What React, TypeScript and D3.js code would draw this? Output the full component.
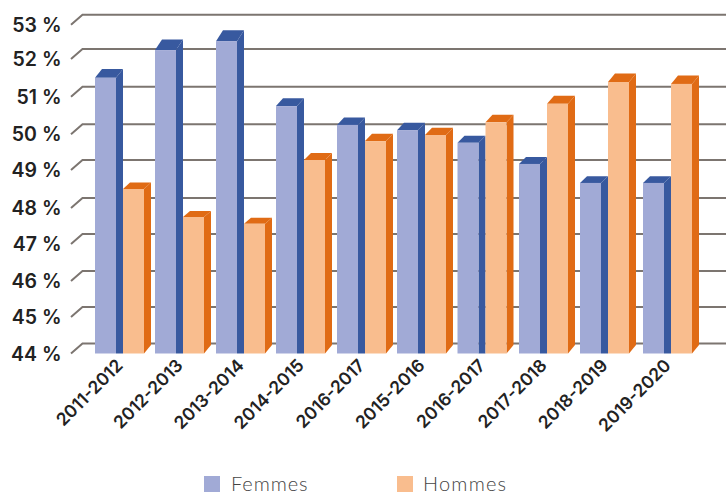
import React from "react";
import * as d3 from "d3";

const categories = ["2011-2012","2012-2013","2013-2014","2014-2015","2016-2017","2015-2016","2016-2017","2017-2018","2018-2019","2019-2020"];
const femmes = [51.5,52.26,52.52,50.75,50.25,50.11,49.76,49.17,48.66,48.66];
const hommes = [48.5,47.75,47.56,49.28,49.81,49.98,50.32,50.81,51.39,51.34];
const ticks = [44,45,46,47,48,49,50,51,52,53];
const tickRows = [343.5,307,271,234,198,160,124.3,86.7,49,14.7];
const slotIndex = categories.map((_, i) => i);
const slotLefts = [95,155,216,276,337,397,457.5,519,580,643];

const W = 726, H = 492;
const dx = 7, dy = 10, barW = 21;
const y = d3.scaleLinear().domain(ticks).range(tickRows);
const x = d3.scaleLinear().domain(slotIndex).range(slotLefts);
// the perspective of the 3D box: the depth of a bar's top shrinks as the bar gets shorter
const depth = d3.scaleLinear().domain([41, 84, 125, 224]).range([11, 8.5, 7.5, 6]);
const font = "Inter, 'Open Sans', sans-serif";

function Bar({ left, value, front, side, flat }: { left: number; value: number; front: string; side: string; flat?: boolean }) {
  const top = y(value) + dy;
  const base = y(44) + dy;
  const r = left + barW;
  const d = depth(top);
  return (
    <g>
      <path d={`M${left},${top}L${left + dx},${top - d}H${r + dx}L${r},${top}Z`} fill={side} />
      <path d={`M${r},${top}L${r + dx},${top - d}V${flat ? base : base - 8.5}L${r},${base}Z`} fill={side} />
      <rect x={left} y={top} width={barW} height={base - top} fill={front} />
    </g>
  );
}

export default function App() {
  return (
    <svg width={W} height={H} viewBox={`0 0 ${W} ${H}`} style={{ position: "absolute", left: 0, top: 0, display: "block", background: "#fff" }}>
      {ticks.map((t) => (
        <g key={t}>
          <path d={`M71,${y(t) + dy}L${71 + 11.5},${y(t)}H${W}`} fill="none" stroke="#7c7570" strokeWidth={2} />
          <text x={61.5} y={y(t) + dy} dy="0.36em" textAnchor="end" fontFamily={font} fontWeight={600} fontSize={19.5} fill="#222">{t} %</text>
        </g>
      ))}
      {categories.map((c, i) => {
        const left = x(i);
        return (
          <g key={i}>
            <Bar left={left} value={femmes[i]} front="#a1aad6" side="#38599f" flat />
            <Bar left={left + barW + dx} value={hommes[i]} front="#f9bd8e" side="#e06b15" />
            <text transform={`translate(${left + 29},${y(44) + 23}) rotate(-45)`} textAnchor="end" fontFamily={font} fontWeight={600} fontSize={17.5} fill="#222">{c}</text>
          </g>
        );
      })}
      <rect x={204} y={476} width={16} height={16} fill="#a1aad6" />
      <text x={231} y={491} fontFamily="Lato, sans-serif" fontWeight={300} fontSize={20} letterSpacing={0.9} fill="#444">Femmes</text>
      <rect x={397} y={476} width={16} height={16} fill="#f9bd8e" />
      <text x={423} y={491} fontFamily="Lato, sans-serif" fontWeight={300} fontSize={20} letterSpacing={1.2} fill="#444">Hommes</text>
    </svg>
  );
}
